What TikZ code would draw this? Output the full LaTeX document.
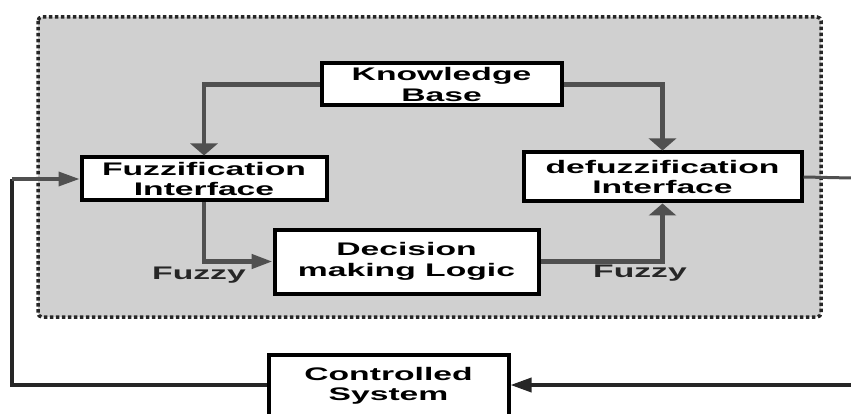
\documentclass[tikz,border=0pt]{standalone}
\usepackage{fontspec}
\usepackage{tikz}
\usetikzlibrary{arrows.meta}
\newfontfamily\boxfont{Liberation Sans}[FakeStretch=1.85]
\definecolor{panel}{RGB}{208,208,208}
\definecolor{wire}{RGB}{80,80,80}

\tikzset{
  blk/.style={draw=black, line width=4pt, fill=white, align=center,
    inner sep=0pt, font=\boxfont\bfseries\fontsize{18.2}{20.5}\selectfont},
  lbl/.style={font=\boxfont\bfseries\fontsize{18.2}{20.5}\selectfont, text=black!85},
  garrow/.style={draw=wire, line width=4.5pt},
  vtip/.style={-{Triangle[length=12pt,width=27pt]}},
  htip/.style={-{Triangle[length=21pt,width=14pt]}},
  fback/.style={draw=black!85, line width=3.5pt}
}

\begin{document}
\begin{tikzpicture}[x=1pt,y=-1pt]
            \useasboundingbox (0,0) rectangle (851,414);
            % controller area
            \draw [fill=panel, draw=black!85, line width=3.5pt, dash pattern=on 3.5pt off 2.5pt,
                   rounded corners=4pt] (38,17) rectangle (821,317);
            \node [blk, minimum width=240pt, minimum height=42pt] (kb) at (441.5,84.5) {Knowledge\\Base};
            \node [blk, minimum width=245pt, minimum height=43pt] (fuzz) at (204,179) {Fuzzification\\Interface};
            \node [blk, minimum width=278pt, minimum height=49pt] (defuzz) at (662.5,177) {defuzzification\\Interface};
            \node [blk, minimum width=264pt, minimum height=64pt] (dec) at (406.5,261.5) {Decision\\making Logic};
            \node [blk, minimum width=240pt, minimum height=62pt] (cs) at (388.5,386) {Controlled\\System};
            \node [lbl] (fz1) at (199,275) {Fuzzy};
            \node [lbl] (fz2) at (640,273) {Fuzzy};
            \coordinate (out) at (851,178);
            \coordinate (in) at (851,385);
            \coordinate (fbl) at (12,179);
            \draw [garrow, vtip] (kb.west) -| (fuzz.north);
            \draw [garrow, vtip] (kb.east) -| (defuzz.north);
            \draw [garrow, htip] (fuzz.south) |- (dec.west);
            \draw [garrow, vtip] (dec.east) -| (defuzz.south);
            % feedback loop
            \draw [draw=wire, line width=3pt] (defuzz.east) -- (out);
            \draw [fback, htip] (in) -- (in -| cs.east);
            \draw [fback] (cs.west |- in) -| (fbl);
            \draw [garrow, line width=3.5pt, htip] (fbl) -- (fuzz.west);
        \end{tikzpicture}
\end{document}
